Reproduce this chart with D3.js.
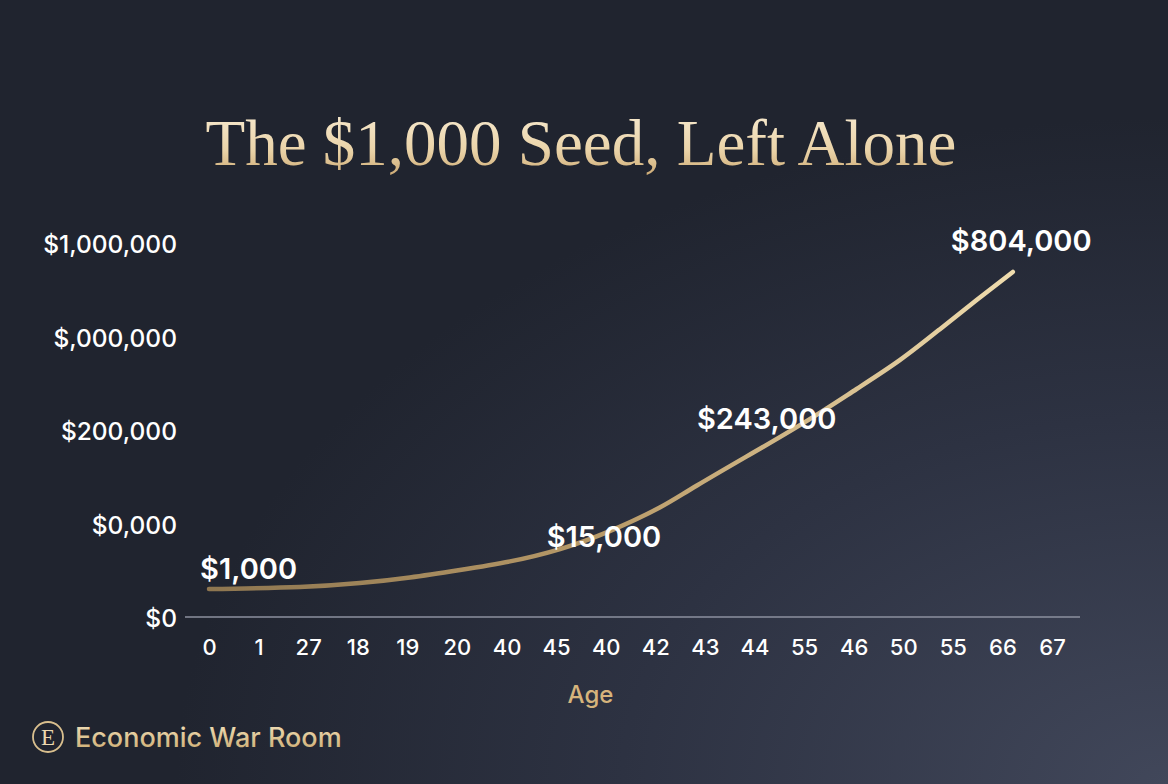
<!DOCTYPE html>
<html>
<head>
<meta charset="utf-8">
<script src="https://cdn.jsdelivr.net/npm/d3@7"></script>
<style>
  html, body { margin: 0; padding: 0; background: #20242f; }
  #wrapper { width: 1168px; height: 784px; overflow: hidden; }
  text { font-family: Inter, 'Noto Sans', sans-serif; }
</style>
</head>
<body>
<div id="wrapper"></div>
<script>
// data
const ageLabels = ['0', '1', '27', '18', '19', '20', '40', '45', '40', '42', '43', '44', '55', '46', '50', '55', '66', '67']
const yTickValues = [0, 250000, 500000, 750000, 1000000]
const yTickLabels = ['$0', '$0,000', '$200,000', '$,000,000', '$1,000,000']

// curve, x in age-slot units, y in axis units
const curveSlots = [0, 1.83, 3.04, 4.05, 5.06, 6.07, 7.08, 8.08, 9.09, 9.84, 11.17, 12.18, 13.06, 13.93, 14.74, 15.48, 16.21]
const curveValues = [80000, 85500, 96000, 111000, 131000, 154000, 187000, 235000, 298000, 357000, 460000, 540000, 615000, 692000, 775000, 853000, 928000]

const callouts = ['$1,000', '$15,000', '$243,000', '$804,000']
const calloutSlots = [-0.18, 6.81, 9.84, 14.96]
const calloutValues = [107000, 192000, 508000, 984000]

function drawChart() {

  // 1. Access data
  const points = curveSlots.map((s, i) => ({ slot: s, value: curveValues[i] }))
  const notes = callouts.map((t, i) => ({ text: t, slot: calloutSlots[i], value: calloutValues[i] }))

  // 2. Create chart dimensions
  let dimensions = {
    width: 1168,
    height: 784,
    margin: {
      top: 245,
      right: 116,
      bottom: 165,
      left: 209,
    },
  }
  dimensions.boundedWidth = dimensions.width - dimensions.margin.left - dimensions.margin.right
  dimensions.boundedHeight = dimensions.height - dimensions.margin.top - dimensions.margin.bottom

  // 3. Draw canvas
  const wrapper = d3.select('#wrapper')
    .append('svg')
      .attr('width', dimensions.width)
      .attr('height', dimensions.height)

  const defs = wrapper.append('defs')

  const bgGlow = defs.append('radialGradient')
      .attr('id', 'bg-glow')
      .attr('cx', '100%').attr('cy', '100%').attr('r', '85%')
  bgGlow.append('stop').attr('offset', '0%').attr('stop-color', '#41475a')
  bgGlow.append('stop').attr('offset', '55%').attr('stop-color', '#2d3242')
  bgGlow.append('stop').attr('offset', '100%').attr('stop-color', '#20242f')

  const titleFill = defs.append('linearGradient')
      .attr('id', 'title-fill')
      .attr('x1', 0).attr('y1', 0).attr('x2', 0).attr('y2', 1)
  titleFill.append('stop').attr('offset', '0%').attr('stop-color', '#f8ecd4')
  titleFill.append('stop').attr('offset', '60%').attr('stop-color', '#ead3a8')
  titleFill.append('stop').attr('offset', '100%').attr('stop-color', '#c9a56e')

  const goldText = defs.append('linearGradient')
      .attr('id', 'gold-text')
      .attr('x1', 0).attr('y1', 0).attr('x2', 0).attr('y2', 1)
  goldText.append('stop').attr('offset', '0%').attr('stop-color', '#f3e2bd')
  goldText.append('stop').attr('offset', '100%').attr('stop-color', '#caa86c')

  wrapper.append('rect')
      .attr('width', dimensions.width)
      .attr('height', dimensions.height)
      .attr('fill', 'url(#bg-glow)')

  const bounds = wrapper.append('g')
      .style('transform', `translate(${dimensions.margin.left}px, ${dimensions.margin.top}px)`)

  // 4. Create scales
  const xScale = d3.scaleLinear()
    .domain([0, ageLabels.length - 1])
    .range([0, dimensions.boundedWidth])

  const yScale = d3.scaleLinear()
    .domain([0, d3.max(yTickValues)])
    .range([dimensions.boundedHeight, 0])

  const lineFill = defs.append('linearGradient')
      .attr('id', 'line-fill')
      .attr('gradientUnits', 'userSpaceOnUse')
      .attr('x1', xScale(curveSlots[0])).attr('y1', 0)
      .attr('x2', xScale(d3.max(curveSlots))).attr('y2', 0)
  lineFill.append('stop').attr('offset', '0%').attr('stop-color', '#8e7650')
  lineFill.append('stop').attr('offset', '50%').attr('stop-color', '#b99b69')
  lineFill.append('stop').attr('offset', '100%').attr('stop-color', '#efdcae')

  // 5. Draw data
  const lineGenerator = d3.line()
    .x(d => xScale(d.slot))
    .y(d => yScale(d.value))
    .curve(d3.curveNatural)

  bounds.append('path')
      .datum(points)
      .attr('d', lineGenerator)
      .attr('fill', 'none')
      .attr('stroke', 'url(#line-fill)')
      .attr('stroke-width', 4.5)
      .attr('stroke-linecap', 'round')

  bounds.selectAll('.callout')
    .data(notes)
    .join('text')
      .attr('class', 'callout')
      .attr('x', d => xScale(d.slot))
      .attr('y', d => yScale(d.value))
      .attr('fill', '#ffffff')
      .style('font-size', '29px')
      .style('font-weight', 600)
      .text(d => d.text)

  // 6. Draw peripherals
  const xAxis = d3.axisBottom(xScale)
    .tickValues(d3.range(ageLabels.length))
    .tickFormat(i => ageLabels[i])
    .tickSize(0)
    .tickPadding(20)

  const xAxisGroup = bounds.append('g')
      .style('transform', `translateY(${dimensions.boundedHeight}px)`)
      .call(xAxis)
  xAxisGroup.select('.domain').remove()
  xAxisGroup.selectAll('text')
      .attr('fill', '#ffffff')
      .style('font-family', 'Inter, sans-serif')
      .style('font-size', '22px')
      .style('font-weight', 500)

  bounds.append('line')
      .attr('x1', -24)
      .attr('x2', dimensions.boundedWidth + 28)
      .attr('y1', dimensions.boundedHeight - 2)
      .attr('y2', dimensions.boundedHeight - 2)
      .attr('stroke', '#8d919f')
      .attr('stroke-width', 1.6)

  const yAxis = d3.axisLeft(yScale)
    .tickValues(yTickValues)
    .tickFormat((d, i) => yTickLabels[i])
    .tickSize(0)
    .tickPadding(32)

  const yAxisGroup = bounds.append('g')
      .call(yAxis)
  yAxisGroup.select('.domain').remove()
  yAxisGroup.selectAll('text')
      .attr('fill', '#ffffff')
      .style('font-family', 'Inter, sans-serif')
      .style('font-size', '24.5px')
      .style('font-weight', 500)

  bounds.append('text')
      .attr('x', dimensions.boundedWidth / 2 - 40)
      .attr('y', dimensions.boundedHeight + 84)
      .attr('text-anchor', 'middle')
      .attr('fill', '#d6b47c')
      .style('font-size', '24px')
      .style('font-weight', 500)
      .text('Age')

  wrapper.append('text')
      .attr('x', 581)
      .attr('y', 165)
      .attr('text-anchor', 'middle')
      .attr('fill', 'url(#title-fill)')
      .style('font-family', "'Liberation Serif', 'DejaVu Serif', serif")
      .style('font-size', '65px')
      .text('The $1,000 Seed, Left Alone')

  // brand mark
  const brand = wrapper.append('g')
      .style('transform', 'translate(48px, 737px)')
  brand.append('circle')
      .attr('r', 15)
      .attr('fill', 'none')
      .attr('stroke', '#d9bf8e')
      .attr('stroke-width', 1.8)
  brand.append('text')
      .attr('y', 8)
      .attr('text-anchor', 'middle')
      .attr('fill', '#ecd8b0')
      .style('font-family', "'Liberation Serif', serif")
      .style('font-size', '23px')
      .text('E')
  brand.append('text')
      .attr('x', 27)
      .attr('y', 10)
      .attr('fill', 'url(#gold-text)')
      .style('font-size', '27px')
      .style('font-weight', 500)
      .text('Economic War Room')
}
drawChart()
</script>
</body>
</html>
